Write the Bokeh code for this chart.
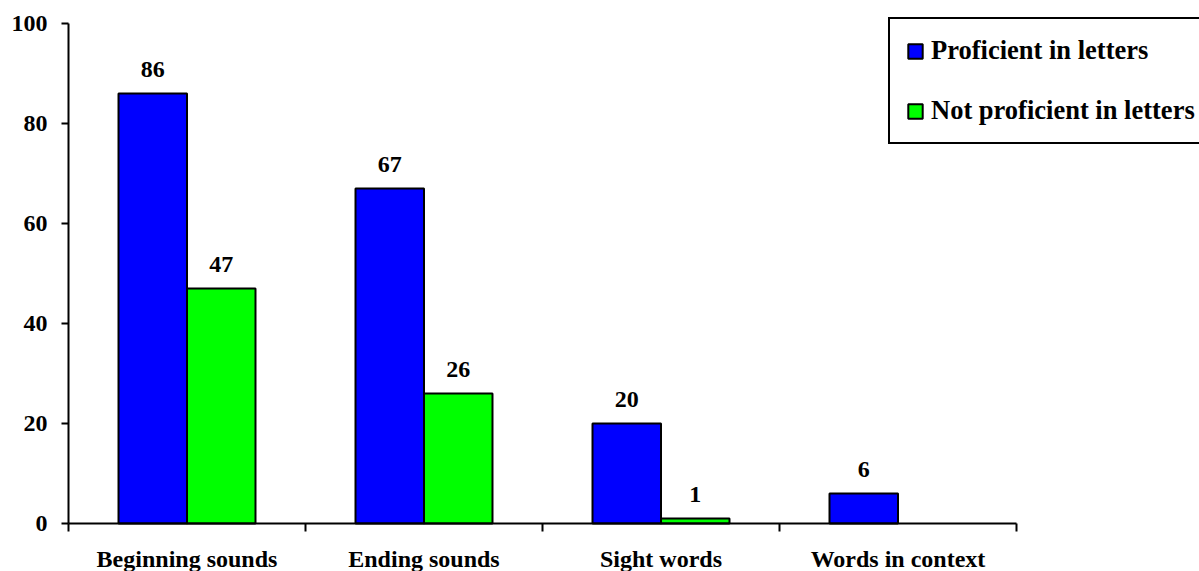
from bokeh.plotting import figure
from bokeh.models import (ColumnDataSource, FixedTicker, LabelSet, Legend, LegendItem,
                          Range1d, LinearAxis)
from bokeh.embed import file_html
from bokeh.resources import INLINE

categories = ["Beginning sounds", "Ending sounds", "Sight words", "Words in context"]
proficient = [86, 67, 20, 6]
not_proficient = [47, 26, 1, None]
series_names = ["Proficient in letters", "Not proficient in letters"]
y_ticks = [0, 20, 40, 60, 80, 100]

FONT = "Liberation Serif"
BAR_W = 0.289
BLUE = "#0000FF"
GREEN = "#00FF00"

W, H = 1199, 571
# pixel placement of the value area inside the (full) frame
PX_L, PX_R, PX_T, PX_B = 68, 1016, 23, 523
n = len(categories)
xs = (PX_R - PX_L) / n           # px per category
ys = (PX_B - PX_T) / 100.0       # px per unit
x_range = Range1d(-PX_L / xs, n + (W - PX_R) / xs)
y_range = Range1d(-(H - PX_B) / ys, 100 + PX_T / ys)

p = figure(width=W, height=H, output_backend="svg", toolbar_location=None,
           x_range=x_range, y_range=y_range,
           min_border=0, min_border_left=0, min_border_right=0,
           min_border_top=0, min_border_bottom=0,
           x_axis_type=None, y_axis_type=None)
p.outline_line_color = None
p.background_fill_color = "white"
p.border_fill_color = "white"

# bars
centers = [i + 0.5 for i in range(n)]
blue_src = ColumnDataSource(dict(
    x=[c - BAR_W / 2 for c in centers], top=proficient,
    label=[str(v) for v in proficient]))
g_idx = [i for i, v in enumerate(not_proficient) if v is not None]
green_src = ColumnDataSource(dict(
    x=[centers[i] + BAR_W / 2 for i in g_idx], top=[not_proficient[i] for i in g_idx],
    label=[str(not_proficient[i]) for i in g_idx]))

r_blue = p.vbar(x="x", top="top", bottom=0, width=BAR_W, source=blue_src,
                fill_color=BLUE, line_color="black", line_width=2)
r_green = p.vbar(x="x", top="top", bottom=0, width=BAR_W, source=green_src,
                 fill_color=GREEN, line_color="black", line_width=2)

for src in (blue_src, green_src):
    p.add_layout(LabelSet(x="x", y="top", text="label", source=src, y_offset=17,
                          text_align="center", text_baseline="alphabetic",
                          text_font=FONT, text_font_style="bold",
                          text_font_size="24px", text_color="black"))

# category labels below axis
cat_src = ColumnDataSource(dict(x=centers, y=[0] * n, text=categories))
p.add_layout(LabelSet(x="x", y="y", text="text", source=cat_src, y_offset=-43,
                      text_align="center", text_baseline="alphabetic",
                      text_font=FONT, text_font_style="bold",
                      text_font_size="24px", text_color="black"))

# y axis
yax = LinearAxis(ticker=FixedTicker(ticks=y_ticks, minor_ticks=[]), fixed_location=0,
                 bounds=(0, 100))
yax.axis_line_width = 2
yax.axis_line_color = "black"
yax.major_tick_in = 0
yax.major_tick_out = 7
yax.major_tick_line_width = 2
yax.major_tick_line_color = "black"
yax.minor_tick_line_color = None
yax.major_label_standoff = 14
yax.major_label_text_font = FONT
yax.major_label_text_font_style = "bold"
yax.major_label_text_font_size = "24px"
yax.major_label_text_color = "black"
p.add_layout(yax, "left")

# x axis: ticks at category boundaries
xax = LinearAxis(ticker=FixedTicker(ticks=[], minor_ticks=list(range(n + 1))),
                 fixed_location=0, bounds=(0, n))
xax.axis_line_width = 2
xax.axis_line_color = "black"
xax.major_tick_line_color = None
xax.minor_tick_in = 0
xax.minor_tick_out = 8
xax.minor_tick_line_width = 2
xax.minor_tick_line_color = "black"
xax.major_label_text_font_size = "0px"
p.add_layout(xax, "below")

p.xgrid.visible = False
p.ygrid.visible = False

legend = Legend(items=[LegendItem(label=series_names[0], renderers=[r_blue]),
                       LegendItem(label=series_names[1], renderers=[r_green])],
                location=(888, H - 144))
legend.border_line_color = "black"
legend.border_line_alpha = 1.0
legend.border_line_width = 2
legend.background_fill_color = "white"
legend.background_fill_alpha = 1
legend.label_text_font = FONT
legend.label_text_font_style = "bold"
legend.label_text_font_size = "26.5px"
legend.label_text_color = "black"
legend.glyph_width = 18
legend.glyph_height = 18
legend.label_standoff = 7
legend.label_height = 30
legend.spacing = 29
legend.padding = 16
legend.margin = 0
p.add_layout(legend, "center")

open("out.html", "w").write(file_html(p, INLINE))
